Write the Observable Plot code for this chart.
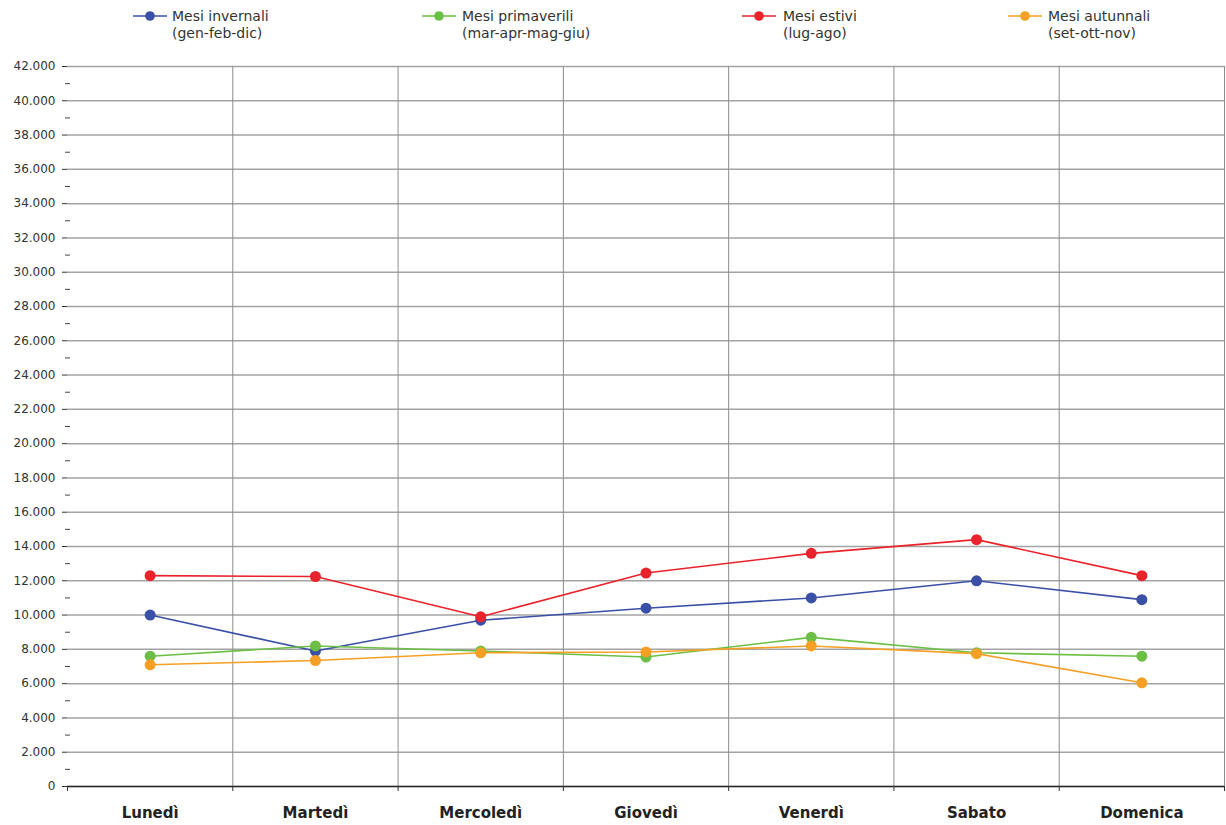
<!DOCTYPE html>
<html>
<head>
<meta charset="utf-8">
<script src="https://cdn.jsdelivr.net/npm/d3@7"></script>
<script src="https://cdn.jsdelivr.net/npm/@observablehq/plot@0.6"></script>
<style>
  body { margin: 0; background: #fff; font-family: "DejaVu Sans", sans-serif; }
  #legend { position: relative; width: 1226px; height: 50px; }
  .sw { position: absolute; top: 10px; }
  .lbl { position: absolute; top: 8px; font-size: 14px; line-height: 17px; color: #333; white-space: nowrap; }
  #chart svg { display: block; }
</style>
</head>
<body>
<div id="legend"></div>
<div id="chart"></div>
<script>
// Giorni della settimana (asse x)
const days = ["Lunedì", "Martedì", "Mercoledì", "Giovedì", "Venerdì", "Sabato", "Domenica"];

// Serie: valori medi per giorno della settimana
const invernali   = [10000, 7900, 9700, 10400, 11000, 12000, 10900];
const primaverili = [7600, 8200, 7900, 7550, 8700, 7800, 7600];
const estivi      = [12300, 12250, 9900, 12450, 13600, 14400, 12300];
const autunnali   = [7100, 7350, 7800, 7850, 8200, 7750, 6050];

const seriesNames = ["Mesi invernali", "Mesi primaverili", "Mesi estivi", "Mesi autunnali"];
const seriesSub   = ["(gen-feb-dic)", "(mar-apr-mag-giu)", "(lug-ago)", "(set-ott-nov)"];
const seriesColors = ["#3a50a6", "#6cbf45", "#e8232b", "#f5a025"];
const seriesValues = [invernali, primaverili, estivi, autunnali];

// Tick dell'asse y: principali ogni 2.000, secondari a metà
const yTicks = d3.range(0, 42001, 2000);
const yMinor = d3.range(1000, 42000, 2000);

const fmt = d3.formatLocale({decimal: ",", thousands: ".", grouping: [3], currency: ["", "€"]}).format(",d");

const data = seriesNames.flatMap((name, s) =>
  seriesValues[s].map((v, i) => ({day: i, value: v, series: name}))
);

// Confini tra i giorni (linee verticali della griglia)
const centers = days.map((d, i) => i);
const boundaries = [-0.5, ...days.map((d, i) => i + 0.5)];

// Legenda
const legendPos = [
  {sw: 133, tx: 172},
  {sw: 422, tx: 462},
  {sw: 742, tx: 783},
  {sw: 1008, tx: 1048}
];
const legend = document.getElementById("legend");
seriesNames.forEach((name, i) => {
  const p = legendPos[i];
  const sw = document.createElementNS("http://www.w3.org/2000/svg", "svg");
  sw.setAttribute("class", "sw");
  sw.setAttribute("width", 34);
  sw.setAttribute("height", 12);
  sw.style.left = p.sw + "px";
  sw.innerHTML = `<line x1="0" x2="34" y1="6" y2="6" stroke="${seriesColors[i]}" stroke-width="1.5"/>` +
                 `<circle cx="17" cy="6" r="4.8" fill="${seriesColors[i]}"/>`;
  legend.appendChild(sw);
  const t = document.createElement("div");
  t.className = "lbl";
  t.style.left = p.tx + "px";
  t.innerHTML = name + "<br>" + seriesSub[i];
  legend.appendChild(t);
});

const chart = Plot.plot({
  width: 1226,
  height: 775,
  marginTop: 16,
  marginBottom: 39,
  marginLeft: 67,
  marginRight: 2,
  style: {fontFamily: "DejaVu Sans, sans-serif", fontSize: "12px", color: "#333", background: "#fff"},
  x: {type: "linear", domain: [-0.5, 6.5]},
  y: {domain: [0, 42000]},
  color: {domain: seriesNames, range: seriesColors},
  marks: [
    Plot.gridY(yTicks, {stroke: "#a3a3a3", strokeOpacity: 1, strokeWidth: 1.5}),
    Plot.ruleX(boundaries.slice(1), {stroke: "#8c8c8c", strokeWidth: 1}),
    Plot.ruleY([0], {stroke: "#2b2b2b", strokeWidth: 1.6}),
    Plot.axisY(yTicks, {label: null, tickSize: 5, tickPadding: 7, tickFormat: fmt, stroke: "#333", fill: "#333"}),
    Plot.axisY(yMinor, {label: null, tickSize: 5, dx: 3, tickFormat: () => "", stroke: "#444"}),
    Plot.axisX(boundaries, {label: null, tickSize: 5, tickFormat: () => "", stroke: "#333"}),
    Plot.axisX(centers, {label: null, tickSize: 0, tickPadding: 21, tickFormat: i => days[i], fontSize: 15, fontWeight: "bold", fill: "#222"}),
    Plot.line(data, {x: "day", y: "value", stroke: "series", strokeWidth: 1.6}),
    Plot.dot(data, {x: "day", y: "value", fill: "series", r: 5.5})
  ]
});
document.getElementById("chart").appendChild(chart);
</script>
</body>
</html>
